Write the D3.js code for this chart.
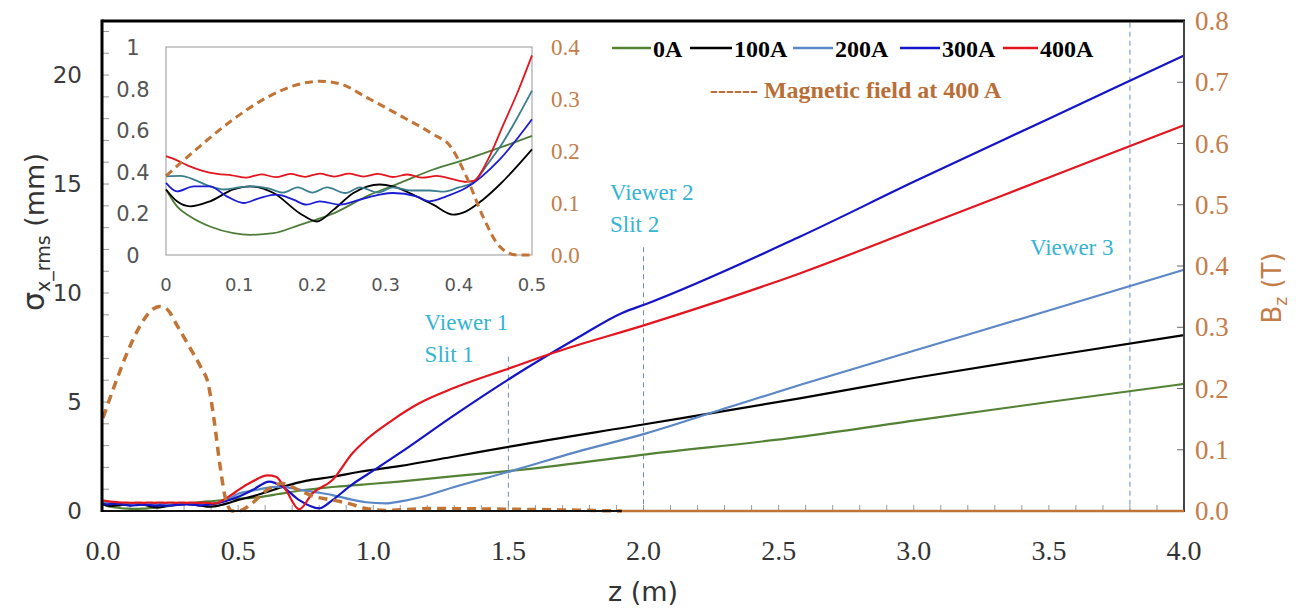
<!DOCTYPE html>
<html>
<head>
<meta charset="utf-8">
<script src="https://cdn.jsdelivr.net/npm/d3@7"></script>
<style>
  body { margin: 0; background: #fff; }
  svg { display: block; }
</style>
</head>
<body>
<svg id="chart" width="1309" height="612"></svg>
<script>
// ---- data -------------------------------------------------------------
// Beam size sigma_x_rms (mm) versus z (m) for each solenoid current.
const seriesNames = ["0A", "100A", "200A", "300A", "400A"];

const sigma0A = [
  [0, 0.315], [0.015, 0.234], [0.033, 0.185], [0.06, 0.137], [0.092, 0.105],
  [0.115, 0.097], [0.147, 0.105], [0.183, 0.145], [0.229, 0.2], [0.274, 0.282],
  [0.32, 0.347], [0.365, 0.411], [0.41, 0.46], [0.456, 0.516], [0.5, 0.573],
  [0.55, 0.6], [0.603, 0.68], [0.65, 0.78], [0.726, 0.93], [0.8, 1.04],
  [0.849, 1.1], [0.95, 1.2], [1.096, 1.35], [1.3, 1.6], [1.516, 1.85],
  [2.01, 2.6], [2.578, 3.4], [3.0, 4.15], [3.5, 5.0], [4.0, 5.83]
];
const sigma100A = [
  [0, 0.315], [0.015, 0.258], [0.033, 0.234], [0.06, 0.258], [0.092, 0.315],
  [0.115, 0.33], [0.147, 0.298], [0.183, 0.2], [0.206, 0.161], [0.229, 0.218],
  [0.256, 0.298], [0.292, 0.339], [0.31, 0.33], [0.342, 0.282], [0.365, 0.242],
  [0.392, 0.194], [0.41, 0.21], [0.433, 0.266], [0.456, 0.339], [0.5, 0.508],
  [0.55, 0.66], [0.6, 0.85], [0.677, 1.15], [0.75, 1.38], [0.849, 1.57],
  [0.95, 1.8], [1.096, 2.06], [1.3, 2.5], [1.516, 2.98], [2.01, 3.99],
  [2.578, 5.17], [3.0, 6.1], [3.5, 7.1], [4.0, 8.07]
];
const sigma200A = [
  [0, 0.378], [0.02, 0.38], [0.04, 0.36], [0.06, 0.33], [0.08, 0.315],
  [0.1, 0.325], [0.12, 0.33], [0.14, 0.32], [0.16, 0.3], [0.18, 0.325],
  [0.2, 0.3], [0.22, 0.325], [0.245, 0.298], [0.265, 0.325], [0.29, 0.3],
  [0.31, 0.325], [0.335, 0.31], [0.36, 0.31], [0.38, 0.305], [0.4, 0.325],
  [0.42, 0.35], [0.44, 0.44], [0.46, 0.54], [0.48, 0.66], [0.5, 0.79],
  [0.55, 0.92], [0.6, 1.05], [0.64, 1.11], [0.68, 1.08], [0.726, 0.98],
  [0.8, 0.84], [0.849, 0.73], [0.92, 0.52], [0.973, 0.4], [1.047, 0.35],
  [1.096, 0.43], [1.17, 0.62], [1.3, 1.1], [1.516, 1.85], [1.75, 2.7],
  [2.01, 3.56], [2.3, 4.7], [2.578, 5.78], [3.0, 7.35], [3.5, 9.2], [4.0, 11.07]
];
const sigma300A = [
  [0, 0.347], [0.015, 0.306], [0.038, 0.33], [0.06, 0.33], [0.083, 0.282],
  [0.106, 0.25], [0.128, 0.274], [0.151, 0.29], [0.174, 0.266], [0.192, 0.242],
  [0.21, 0.258], [0.238, 0.242], [0.265, 0.266], [0.292, 0.29], [0.31, 0.298],
  [0.342, 0.282], [0.36, 0.258], [0.383, 0.282], [0.41, 0.323], [0.456, 0.46],
  [0.5, 0.653], [0.553, 0.96], [0.615, 1.35], [0.664, 1.12], [0.726, 0.5],
  [0.8, 0.12], [0.849, 0.5], [0.92, 1.2], [1.0, 1.85], [1.096, 2.64],
  [1.3, 4.4], [1.516, 6.16], [1.75, 7.9], [1.923, 9.1], [2.01, 9.5],
  [2.578, 12.58], [3.0, 15.1], [3.5, 18.0], [4.0, 20.9]
];
const sigma400A = [
  [0, 0.475], [0.015, 0.455], [0.03, 0.43], [0.05, 0.405], [0.07, 0.39],
  [0.09, 0.383], [0.11, 0.372], [0.13, 0.388], [0.15, 0.374], [0.17, 0.39],
  [0.19, 0.376], [0.21, 0.391], [0.23, 0.377], [0.25, 0.391], [0.27, 0.377],
  [0.29, 0.39], [0.31, 0.375], [0.33, 0.387], [0.35, 0.372], [0.37, 0.38],
  [0.39, 0.366], [0.41, 0.352], [0.42, 0.356], [0.44, 0.46], [0.46, 0.62],
  [0.48, 0.78], [0.5, 0.96], [0.553, 1.35], [0.609, 1.63], [0.64, 1.57],
  [0.677, 0.96], [0.726, 0.08], [0.775, 0.81], [0.849, 1.42], [0.923, 2.65],
  [0.973, 3.26], [1.071, 4.17], [1.17, 4.94], [1.3, 5.65], [1.516, 6.6],
  [1.664, 7.25], [2.01, 8.55], [2.578, 10.9], [3.0, 12.9], [3.5, 15.3], [4.0, 17.7]
];
const sigmaSeries = [sigma0A, sigma100A, sigma200A, sigma300A, sigma400A];

// Longitudinal magnetic field Bz (T) at 400 A.
const fieldB400 = [
  [0, 0.152], [0.047, 0.21], [0.092, 0.261], [0.138, 0.303], [0.183, 0.329],
  [0.21, 0.334], [0.238, 0.329], [0.274, 0.303], [0.32, 0.268], [0.365, 0.232],
  [0.388, 0.21], [0.41, 0.152], [0.433, 0.074], [0.456, 0.016], [0.479, 0.0],
  [0.5, 0.0], [0.55, 0.012], [0.6, 0.032], [0.664, 0.045], [0.72, 0.035],
  [0.787, 0.023], [0.85, 0.018], [0.911, 0.012], [0.973, 0.004], [1.05, 0.001],
  [1.2, 0.004], [1.5, 0.003], [1.92, 0.0], [2.5, 0.0], [3.0, 0.0], [3.5, 0.0], [4.0, 0.0]
];

// Diagnostics along the beam line.
const viewerZ = [1.5, 2.0, 3.8];
const viewerTopMm = [7.08, 12.1, 22.4];
const viewerText = [["Viewer 1", "Slit 1"], ["Viewer 2", "Slit 2"], ["Viewer 3"]];

// Tick labels.
const xTicks = [0, 0.5, 1.0, 1.5, 2.0, 2.5, 3.0, 3.5, 4.0];
const yLeftTicks = [0, 5, 10, 15, 20];
const yRightTicks = [0, 0.1, 0.2, 0.3, 0.4, 0.5, 0.6, 0.7, 0.8];
const insetXTicks = [0, 0.1, 0.2, 0.3, 0.4, 0.5];
const insetLeftTicks = [0, 0.2, 0.4, 0.6, 0.8, 1];
const insetRightTicks = [0, 0.1, 0.2, 0.3, 0.4];

// ---- styling ----------------------------------------------------------
const mainColors = ["#548235", "#000000", "#5b87c6", "#1414c8", "#e3161f"];
const insetColors = ["#4e7d3a", "#000000", "#3b7e8e", "#1c1cd2", "#e3161f"];
const fieldColor = "#c27436";
const rightAxisColor = "#c47d4a";
const viewerColor = "#35b3d3";
const sansFont = "'DejaVu Sans', sans-serif";
const serifFont = "'Liberation Serif', 'DejaVu Serif', serif";

const svg = d3.select("#chart");

// ---- main plot scales ---------------------------------------------------
const x = d3.scaleLinear().domain([0, 4]).range([103, 1184]);
const yL = d3.scaleLinear().domain([0, 22.48]).range([511, 21]);
const yR = d3.scaleLinear().domain([0, 0.8]).range([511, 21]);

// minor ticks (inward)
const gTicks = svg.append("g").attr("stroke", "#9a9a9a").attr("stroke-width", 1);
gTicks.selectAll(".xm").data(d3.range(1, 40)).join("line")
  .attr("x1", d => x(d / 10)).attr("x2", d => x(d / 10))
  .attr("y1", 511).attr("y2", 505);
gTicks.selectAll(".yl").data(d3.range(1, 23)).join("line")
  .attr("x1", 103).attr("x2", 109)
  .attr("y1", d => yL(d)).attr("y2", d => yL(d));
gTicks.selectAll(".yr").data(yRightTicks.slice(1)).join("line")
  .attr("x1", 1184).attr("x2", 1177)
  .attr("y1", d => yR(d)).attr("y2", d => yR(d))
  .attr("stroke", "#666");

// viewer / slit positions
svg.append("g").selectAll("line").data(viewerZ).join("line")
  .attr("x1", d => x(d)).attr("x2", d => x(d))
  .attr("y1", (d, i) => yL(viewerTopMm[i])).attr("y2", 511)
  .attr("stroke", "#6b8fbd").attr("stroke-width", 1)
  .attr("stroke-dasharray", "5,4");

const viewerAnchor = [[1.19, 8.3], [1.876, 14.27], [3.43, 11.74]];
const gView = svg.append("g").attr("font-family", serifFont)
  .attr("font-size", 23).attr("fill", viewerColor);
viewerText.forEach((lines, i) => {
  lines.forEach((t, k) => {
    gView.append("text")
      .attr("x", x(viewerAnchor[i][0]))
      .attr("y", yL(viewerAnchor[i][1]) + k * 32)
      .text(t);
  });
});

// sigma curves
const lineMain = d3.line().x(d => x(d[0])).y(d => yL(d[1])).curve(d3.curveMonotoneX);
svg.append("g").selectAll("path").data(sigmaSeries).join("path")
  .attr("d", lineMain)
  .attr("fill", "none")
  .attr("stroke", (d, i) => mainColors[i])
  .attr("stroke-width", 2.2);

// magnetic field, secondary axis
const lineB = d3.line().x(d => x(d[0])).y(d => yR(d[1])).curve(d3.curveMonotoneX);
svg.append("path")
  .attr("d", lineB(fieldB400.filter(d => d[0] <= 1.92)))
  .attr("fill", "none").attr("stroke", fieldColor)
  .attr("stroke-width", 3.5).attr("stroke-dasharray", "9,6");

// frame
const gFrame = svg.append("g");
gFrame.append("line").attr("x1", 102).attr("x2", 1184).attr("y1", 511).attr("y2", 511)
  .attr("stroke", "#111").attr("stroke-width", 2);
gFrame.append("line").attr("x1", 102).attr("x2", 1185).attr("y1", 21).attr("y2", 21)
  .attr("stroke", "#000").attr("stroke-width", 3);
gFrame.append("line").attr("x1", 102).attr("x2", 102).attr("y1", 19.5).attr("y2", 512)
  .attr("stroke", "#000").attr("stroke-width", 3);
gFrame.append("line").attr("x1", 1184).attr("x2", 1184).attr("y1", 21).attr("y2", 512)
  .attr("stroke", "#444").attr("stroke-width", 2);

// field tail lying on the axis
svg.append("path")
  .attr("d", lineB(fieldB400.filter(d => d[0] >= 1.92)))
  .attr("fill", "none").attr("stroke", fieldColor).attr("stroke-width", 2.6);

// axis labels
svg.append("g").selectAll("text").data(xTicks).join("text")
  .attr("x", d => x(d)).attr("y", 560)
  .attr("text-anchor", "middle")
  .attr("font-family", serifFont).attr("font-size", 28).attr("fill", "#333")
  .text(d => d.toFixed(1));

svg.append("g").selectAll("text").data(yLeftTicks).join("text")
  .attr("x", 82).attr("y", d => yL(d) + 8)
  .attr("text-anchor", "end")
  .attr("font-family", sansFont).attr("font-size", 23).attr("fill", "#3a3a3a")
  .text(d => d);

svg.append("g").selectAll("text").data(yRightTicks).join("text")
  .attr("x", 1195).attr("y", d => yR(d) + 9)
  .attr("font-family", serifFont).attr("font-size", 27).attr("fill", rightAxisColor)
  .text(d => d.toFixed(1));

// axis titles
const tLeft = svg.append("text")
  .attr("transform", "translate(44,232) rotate(-90)")
  .attr("text-anchor", "middle")
  .attr("font-family", sansFont).attr("fill", "#333");
tLeft.append("tspan").attr("font-size", 30).text("σ");
tLeft.append("tspan").attr("font-size", 19).attr("dy", 6).text("x_rms");
tLeft.append("tspan").attr("font-size", 27).attr("dy", -6).text(" (mm)");

svg.append("text")
  .attr("x", 643).attr("y", 601)
  .attr("text-anchor", "middle")
  .attr("font-family", sansFont).attr("font-size", 27).attr("fill", "#333")
  .text("z (m)");

const tRight = svg.append("text")
  .attr("transform", "translate(1281,288) rotate(-90)")
  .attr("text-anchor", "middle")
  .attr("font-family", sansFont).attr("fill", rightAxisColor);
tRight.append("tspan").attr("font-size", 26).text("B");
tRight.append("tspan").attr("font-size", 17).attr("dy", 6).text("z");
tRight.append("tspan").attr("font-size", 26).attr("dy", -6).text(" (T)");

// ---- inset: zoom on the first 0.5 m ------------------------------------
const xi = d3.scaleLinear().domain([0, 0.5]).range([166, 532]);
const yi = d3.scaleLinear().domain([0, 1]).range([255, 47]);
const yiR = d3.scaleLinear().domain([0, 0.4]).range([255, 47]);

const gIn = svg.append("g");
gIn.append("rect").attr("x", 166).attr("y", 47).attr("width", 366).attr("height", 208)
  .attr("fill", "#fff").attr("stroke", "#a8a8a8").attr("stroke-width", 1.2);

const lineIn = d3.line().x(d => xi(d[0])).y(d => yi(d[1])).curve(d3.curveMonotoneX);
gIn.append("g").selectAll("path").data(sigmaSeries).join("path")
  .attr("d", d => lineIn(d.filter(p => p[0] <= 0.5)))
  .attr("fill", "none")
  .attr("stroke", (d, i) => insetColors[i])
  .attr("stroke-width", 1.8);

const lineInB = d3.line().x(d => xi(d[0])).y(d => yiR(d[1])).curve(d3.curveMonotoneX);
gIn.append("path")
  .attr("d", lineInB(fieldB400.filter(d => d[0] <= 0.5)))
  .attr("fill", "none").attr("stroke", fieldColor)
  .attr("stroke-width", 3).attr("stroke-dasharray", "8,5");

gIn.append("g").selectAll("text").data(insetXTicks).join("text")
  .attr("x", d => xi(d)).attr("y", 291)
  .attr("text-anchor", "middle")
  .attr("font-family", sansFont).attr("font-size", 18).attr("fill", "#555")
  .text(d => d === 0 ? "0" : d.toFixed(1));

gIn.append("g").selectAll("text").data(insetLeftTicks).join("text")
  .attr("x", 133).attr("y", d => yi(d) + 8)
  .attr("text-anchor", "middle")
  .attr("font-family", sansFont).attr("font-size", 21).attr("fill", "#555")
  .text(d => (d === 0 || d === 1) ? String(d) : d.toFixed(1));

gIn.append("g").selectAll("text").data(insetRightTicks).join("text")
  .attr("x", 551).attr("y", d => yiR(d) + 8)
  .attr("font-family", serifFont).attr("font-size", 23).attr("fill", rightAxisColor)
  .text(d => d.toFixed(1));

// ---- legend -------------------------------------------------------------
const legendItems = [
  { x0: 612, x1: 651, tx: 653 },
  { x0: 690, x1: 732, tx: 734 },
  { x0: 793, x1: 833, tx: 835 },
  { x0: 900, x1: 940, tx: 942 },
  { x0: 1003, x1: 1038, tx: 1040 }
];
const gLeg = svg.append("g");
legendItems.forEach((it, i) => {
  gLeg.append("line").attr("x1", it.x0).attr("x2", it.x1).attr("y1", 48).attr("y2", 48)
    .attr("stroke", mainColors[i]).attr("stroke-width", 2.5);
  gLeg.append("text").attr("x", it.tx).attr("y", 57)
    .attr("font-family", serifFont).attr("font-weight", "bold")
    .attr("font-size", 24).attr("fill", "#000")
    .text(seriesNames[i]);
});
gLeg.append("text").attr("x", 710).attr("y", 98)
  .attr("font-family", serifFont).attr("font-weight", "bold")
  .attr("font-size", 24).attr("fill", "#b86e35")
  .text("------ Magnetic field at 400 A");
</script>
</body>
</html>
